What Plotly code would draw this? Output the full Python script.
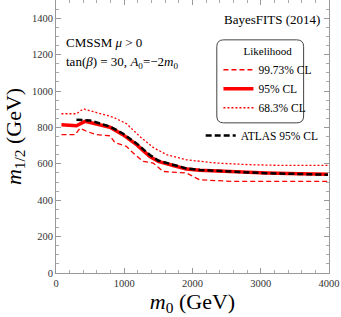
import plotly.graph_objects as go

# 95% CL (solid red)
m0_95 = [80, 300, 425, 644, 790, 985, 1180, 1376, 1498, 1717, 1912, 2107, 2595, 3083, 3571, 3985]
m12_95 = [814, 809, 833, 814, 801, 759, 705, 640, 613, 591, 571, 564, 555, 549, 545, 543]

# 68.3% CL (dotted red)
m0_68 = [80, 300, 400, 644, 839, 1034, 1229, 1424, 1620, 1912, 2351, 2839, 3327, 3985]
m12_68 = [875, 875, 902, 878, 856, 820, 750, 690, 650, 622, 604, 595, 591, 591]

# 99.73% CL (dashed red)
m0_997 = [80, 280, 351, 450, 595, 790, 863, 1034, 1132, 1278, 1424, 1571, 1912, 2107, 2595, 3985]
m12_997 = [760, 760, 796, 778, 760, 754, 717, 695, 659, 613, 604, 558, 549, 512, 503, 503]

# ATLAS 95% CL (black dashed)
m0_atlas = [300, 498, 790, 985, 1180, 1376, 1498, 1717, 1912, 2107, 2595, 3083, 3571, 3985]
m12_atlas = [842, 838, 805, 765, 712, 648, 618, 595, 574, 566, 556, 548, 544, 540]

x_ticks = [0, 1000, 2000, 3000, 4000]
y_ticks = [0, 200, 400, 600, 800, 1000, 1200, 1400]

SERIF = "Liberation Serif, Times New Roman, serif"

fig = go.Figure()
fig.add_trace(go.Scatter(x=m0_997, y=m12_997, mode="lines", name="99.73% CL",
                         line=dict(color="#ff0000", width=1.3, dash="5px,3px"), legend="legend"))
fig.add_trace(go.Scatter(x=m0_95, y=m12_95, mode="lines", name="95% CL",
                         line=dict(color="#ff0000", width=3.5), legend="legend"))
fig.add_trace(go.Scatter(x=m0_68, y=m12_68, mode="lines", name="68.3% CL",
                         line=dict(color="#ff0000", width=1.3, dash="2px,2px"), legend="legend"))
fig.add_trace(go.Scatter(x=m0_atlas, y=m12_atlas, mode="lines", name="ATLAS 95% CL",
                         line=dict(color="black", width=2.5, dash="6px,3px"), legend="legend2"))

axis_common = dict(showgrid=False, zeroline=False, showline=True, linecolor="#999999",
                   linewidth=1, mirror="ticks", ticks="inside", ticklen=5, tickcolor="#999999",
                   tickfont=dict(family=SERIF, size=10.5, color="#333333"))

fig.update_xaxes(range=[0, 4000], tickvals=x_ticks, **axis_common,
                 minor=dict(ticks="inside", ticklen=3, dtick=200, tickcolor="#aaaaaa"),
                 title=dict(text="<i>m</i><sub>0</sub> (GeV)", font=dict(family=SERIF, size=22, color="black"),
                            standoff=2))
fig.update_yaxes(range=[0, 1500], tickvals=y_ticks, **axis_common,
                 minor=dict(ticks="inside", ticklen=3, dtick=50, tickcolor="#aaaaaa"),
                 title=dict(text="<i>m</i><sub>1/2</sub> (GeV)", font=dict(family=SERIF, size=22, color="black"),
                            standoff=4))

fig.add_annotation(text="BayesFITS (2014)", xref="paper", yref="paper", x=0.975, y=0.965,
                   xanchor="right", yanchor="top", showarrow=False,
                   font=dict(family=SERIF, size=13, color="black"))
fig.add_annotation(text="CMSSM <i>μ</i> > 0", xref="paper", yref="paper", x=0.03, y=0.843,
                   xanchor="left", yanchor="middle", showarrow=False,
                   font=dict(family=SERIF, size=13, color="black"))
fig.add_annotation(text="tan(<i>β</i>) = 30, <i>A</i><sub>0</sub>=−2<i>m</i><sub>0</sub>", xref="paper", yref="paper",
                   x=0.03, y=0.77, xanchor="left", yanchor="middle", showarrow=False,
                   font=dict(family=SERIF, size=13, color="black"))

# rounded box around likelihood legend
x0, x1, y0, y1, r = 0.589, 0.907, 0.55, 0.854, 0.025
fig.add_shape(type="path", xref="paper", yref="paper",
              path=(f"M {x0+r},{y1} L {x1-r},{y1} Q {x1},{y1} {x1},{y1-r} "
                    f"L {x1},{y0+r} Q {x1},{y0} {x1-r},{y0} L {x0+r},{y0} "
                    f"Q {x0},{y0} {x0},{y0+r} L {x0},{y1-r} Q {x0},{y1} {x0+r},{y1} Z"),
              line=dict(color="#444444", width=1), fillcolor="white", layer="below")

fig.update_layout(
    width=341, height=317,
    margin=dict(l=56, r=12, t=0, b=44),
    plot_bgcolor="white", paper_bgcolor="white",
    font=dict(family=SERIF, color="black"),
    legend=dict(x=0.595, y=0.85, xanchor="left", yanchor="top",
                title=dict(text="Likelihood", side="top center", font=dict(family=SERIF, size=11)),
                font=dict(family=SERIF, size=11.5), bgcolor="rgba(0,0,0,0)",
                itemwidth=30, tracegroupgap=0),
    legend2=dict(x=0.53, y=0.557, xanchor="left", yanchor="top",
                 font=dict(family=SERIF, size=11.5), bgcolor="rgba(0,0,0,0)", itemwidth=30),
)

fig.write_html("out.html", config={"displayModeBar": False})

with open("out.html", "r", encoding="utf-8") as f:
    html = f.read()
html = html.replace("<head>", "<head><style>html,body{margin:0;padding:0;overflow:hidden;}</style>", 1)
with open("out.html", "w", encoding="utf-8") as f:
    f.write(html)
